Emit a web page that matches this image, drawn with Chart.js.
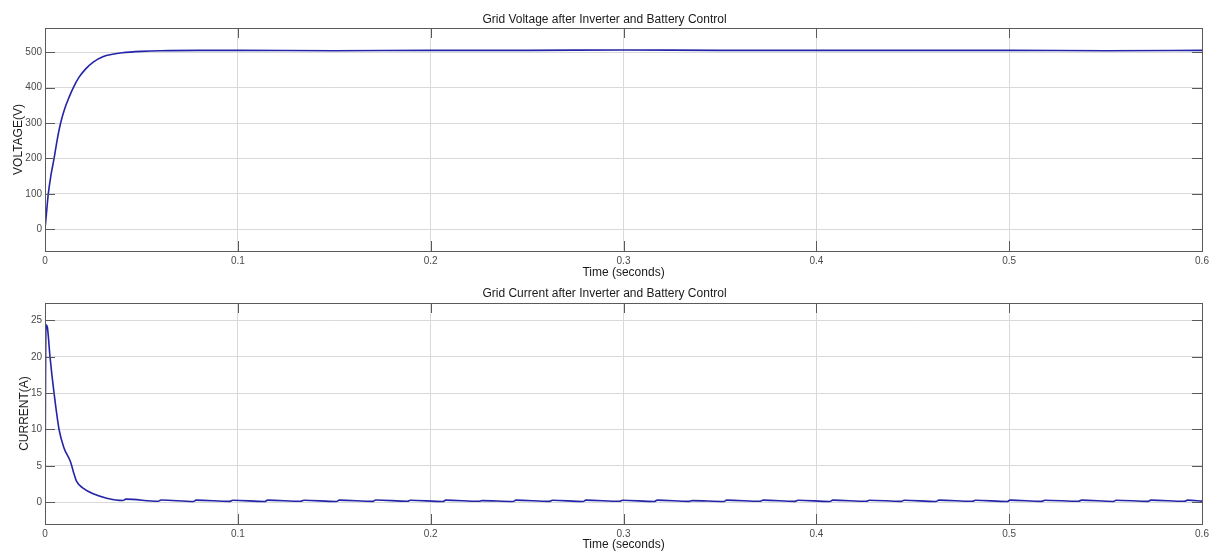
<!DOCTYPE html>
<html lang="en">
  <head>
    <meta charset="UTF-8" />
    <title>Grid Voltage and Current after Inverter and Battery Control</title>
    <script src="https://cdn.jsdelivr.net/npm/chart.js"></script>
    <style>
      body {
        margin: 0;
        background: #ffffff;
        font-family: "Liberation Sans", Arial, sans-serif;
      }
      canvas {
        display: block;
      }
    </style>
  </head>
  <body>
    <canvas id="voltageChart" width="1209" height="280"></canvas>
    <canvas id="currentChart" width="1209" height="272"></canvas>

    <script>
      // x axis (shared)
      const timeTicks = [0, 0.1, 0.2, 0.3, 0.4, 0.5, 0.6];

      // top plot: grid voltage
      const voltageTicks = [0, 100, 200, 300, 400, 500];
      const voltageTime = [
        0, 0.001, 0.0017, 0.003, 0.0047, 0.0063, 0.0081, 0.01, 0.0125, 0.0147,
        0.0175, 0.021, 0.025, 0.03, 0.035, 0.04, 0.05, 0.06, 0.08, 0.1, 0.15,
        0.2, 0.25, 0.3, 0.35, 0.4, 0.45, 0.5, 0.55, 0.6,
      ];
      const voltageValues = [
        0, 60, 100, 150, 200, 252, 300, 337, 373, 400, 428, 452, 472, 487, 494,
        498, 502, 504, 505, 505, 504, 505, 505, 506, 505, 505, 505, 505, 504,
        505,
      ];

      // bottom plot: grid current
      const currentTicks = [0, 5, 10, 15, 20, 25];
      const currentTime = [
        0, 0.0005, 0.0012, 0.0026, 0.0047, 0.0073, 0.0098, 0.0133, 0.0147,
        0.0164, 0.0199, 0.025, 0.032,
        0.0404, 0.0419, 0.0587, 0.0602, 0.0769, 0.0784, 0.0959, 0.0974,
        0.114, 0.1155, 0.1327, 0.1342, 0.1511, 0.1526, 0.17, 0.1715,
        0.188, 0.1895, 0.2064, 0.2079, 0.225, 0.2265, 0.2427, 0.2442,
        0.2617, 0.2632, 0.279, 0.2805, 0.298, 0.2995, 0.316, 0.3175,
        0.334, 0.3355, 0.352, 0.3535, 0.371, 0.3725, 0.389, 0.3905,
        0.407, 0.4085, 0.426, 0.4275, 0.444, 0.4455, 0.462, 0.4635,
        0.481, 0.4825, 0.499, 0.5005, 0.517, 0.5185, 0.536, 0.5375,
        0.554, 0.5555, 0.572, 0.5735, 0.591, 0.5925, 0.6,
      ];
      const currentValues = [
        0, 24.4, 24.1, 20, 15, 10, 7.5, 5.5, 4.2,
        2.85, 1.9, 1.15, 0.55,
        0.24, 0.42, 0.12, 0.3, 0.1, 0.28, 0.11, 0.27,
        0.1, 0.29, 0.12, 0.27, 0.1, 0.28, 0.11, 0.3,
        0.12, 0.26, 0.1, 0.29, 0.12, 0.22, 0.1, 0.28,
        0.11, 0.27, 0.1, 0.28, 0.12, 0.27, 0.1, 0.29,
        0.11, 0.22, 0.1, 0.28, 0.12, 0.29, 0.11, 0.27,
        0.1, 0.28, 0.12, 0.27, 0.11, 0.26, 0.1, 0.28,
        0.12, 0.27, 0.1, 0.29, 0.11, 0.27, 0.12, 0.28,
        0.1, 0.27, 0.11, 0.29, 0.12, 0.28, 0.14,
      ];

      const FONT = "'Liberation Sans', Arial, sans-serif";
      const LINE_COLOR = "#2424a8";

      // MATLAB-like box with inward tick marks on all four sides
      const boxPlugin = {
        id: "box",
        afterDraw(chart) {
          const ctx = chart.ctx;
          const a = chart.chartArea;
          const xs = chart.scales.x;
          const ys = chart.scales.y;
          ctx.save();
          ctx.strokeStyle = "#5a5a5a";
          ctx.lineWidth = 1;
          ctx.beginPath();
          ys.ticks.forEach((t) => {
            const y = Math.round(ys.getPixelForValue(t.value)) + 0.5;
            ctx.moveTo(a.left, y);
            ctx.lineTo(a.left + 10, y);
            ctx.moveTo(a.right, y);
            ctx.lineTo(a.right - 10, y);
          });
          xs.ticks.forEach((t) => {
            const x = Math.round(xs.getPixelForValue(t.value)) + 0.5;
            ctx.moveTo(x, a.bottom);
            ctx.lineTo(x, a.bottom - 10);
            ctx.moveTo(x, a.top);
            ctx.lineTo(x, a.top + 10);
          });
          ctx.stroke();
          ctx.strokeRect(
            Math.round(a.left) + 0.5,
            Math.round(a.top) + 0.5,
            Math.round(a.right - a.left),
            Math.round(a.bottom - a.top)
          );
          ctx.restore();
        },
      };

      function makeChart(id, cfg) {
        const points = cfg.times.map((t, i) => ({ x: t, y: cfg.values[i] }));
        return new Chart(document.getElementById(id), {
          type: "line",
          data: {
            datasets: [
              {
                data: points,
                borderColor: LINE_COLOR,
                borderWidth: 1.6,
                pointRadius: 0,
                cubicInterpolationMode: "monotone",
                fill: false,
              },
            ],
          },
          options: {
            responsive: false,
            animation: false,
            layout: { padding: { left: 0, right: 0, top: 0, bottom: 0 } },
            plugins: {
              legend: { display: false },
              tooltip: { enabled: false },
              title: {
                display: true,
                text: cfg.title,
                color: "#1a1a1a",
                font: { family: FONT, size: 12, weight: "normal" },
                padding: cfg.titlePad,
              },
            },
            scales: {
              x: {
                type: "linear",
                min: 0,
                max: 0.6,
                afterBuildTicks: (s) => {
                  s.ticks = timeTicks.map((v) => ({ value: v }));
                },
                afterFit: (s) => {
                  s.height = cfg.xHeight;
                  s.paddingLeft = 0;
                  s.paddingRight = 7;
                },
                ticks: {
                  color: "#4a4a4a",
                  font: { family: FONT, size: 10 },
                  padding: 4,
                  maxRotation: 0,
                  callback: (v) => String(v),
                },
                grid: { color: "#d9d9d9", drawTicks: false },
                border: { display: false },
                title: {
                  display: true,
                  text: "Time (seconds)",
                  color: "#1a1a1a",
                  font: { family: FONT, size: 12 },
                  padding: { top: 0, bottom: 0 },
                },
              },
              y: {
                min: cfg.yMin,
                max: cfg.yMax,
                afterBuildTicks: (s) => {
                  s.ticks = cfg.yTicks.map((v) => ({ value: v }));
                },
                afterFit: (s) => {
                  s.width = 45;
                },
                ticks: {
                  color: "#4a4a4a",
                  font: { family: FONT, size: 10 },
                  padding: 3,
                },
                grid: { color: "#d9d9d9", drawTicks: false },
                border: { display: false },
                title: {
                  display: true,
                  text: cfg.yTitle,
                  color: "#1a1a1a",
                  font: { family: FONT, size: 12 },
                  padding: { top: cfg.yTitlePad, bottom: 0 },
                },
              },
            },
          },
          plugins: [boxPlugin],
        });
      }

      makeChart("voltageChart", {
        title: "Grid Voltage after Inverter and Battery Control",
        titlePad: { top: 12.8, bottom: 0.8 },
        times: voltageTime,
        values: voltageValues,
        yTicks: voltageTicks,
        yMin: -61,
        yMax: 568,
        yTitle: "VOLTAGE(V)",
        yTitlePad: 11,
        xHeight: 29,
      });

      makeChart("currentChart", {
        title: "Grid Current after Inverter and Battery Control",
        titlePad: { top: 6.8, bottom: 1.8 },
        times: currentTime,
        values: currentValues,
        yTicks: currentTicks,
        yMin: -3,
        yMax: 27.4,
        yTitle: "CURRENT(A)",
        yTitlePad: 17,
        xHeight: 28,
      });
    </script>
  </body>
</html>
